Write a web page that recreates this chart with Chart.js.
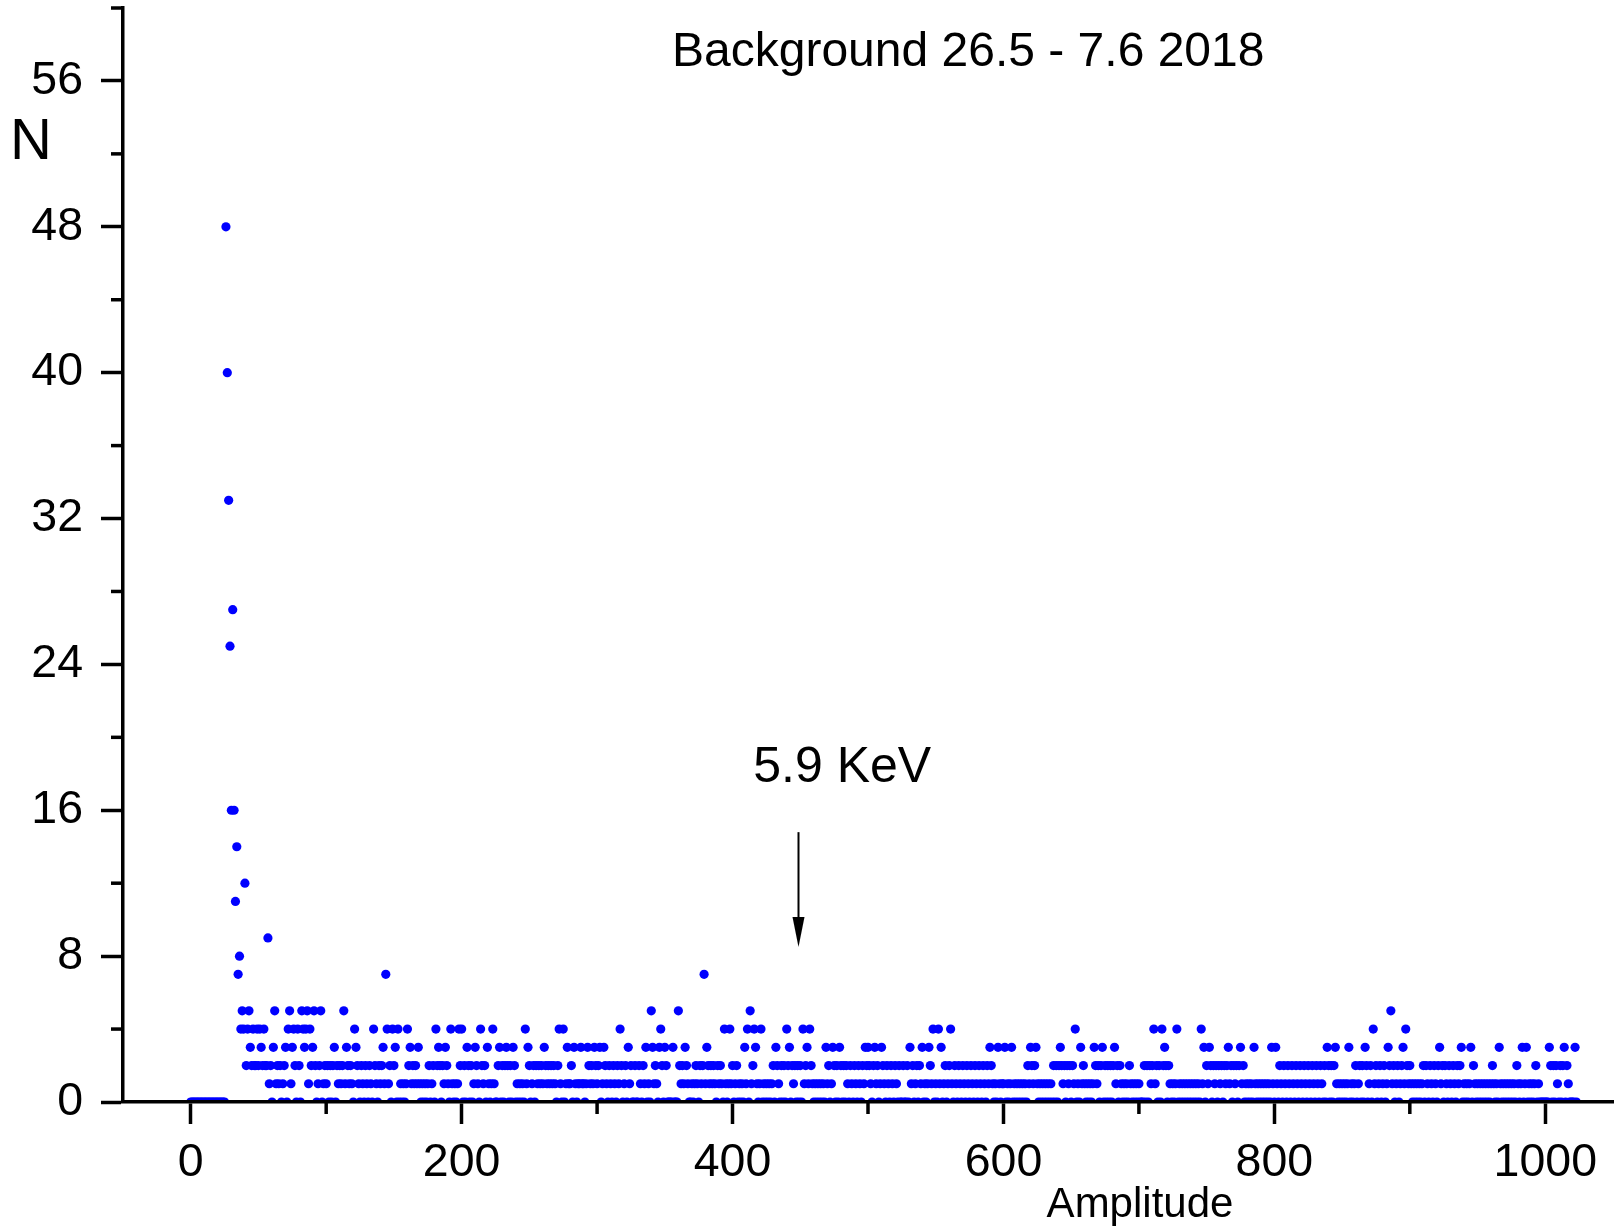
<!DOCTYPE html>
<html>
<head>
<meta charset="utf-8">
<title>Background 26.5 - 7.6 2018</title>
<script src="https://cdn.jsdelivr.net/npm/chart.js@4/dist/chart.umd.min.js"></script>
<style>
  html, body { margin: 0; padding: 0; background: #fff; }
  #wrap { width: 1621px; height: 1232px; position: relative; }
  canvas { display: block; }
</style>
</head>
<body>
<div id="wrap"><canvas id="spectrum" width="1621" height="1232"></canvas></div>
<script>
// Counts per amplitude channel (channel index = amplitude, 0..1023)
const counts = [
  0,0,0,0,0,0,0,0,0,0,
  0,0,0,0,0,0,0,0,0,0,
  0,0,0,0,0,0,48,40,33,25,
  16,27,16,11,14,7,8,4,5,4,
  12,2,4,5,3,2,4,2,2,4,
  2,4,3,2,4,2,2,9,1,2,
  0,3,5,1,2,1,2,0,1,2,
  3,0,4,5,1,3,4,2,0,4,
  2,0,5,4,3,4,5,1,4,2,
  3,5,2,0,1,2,5,0,1,2,
  // 100
  1,2,0,2,0,2,3,0,2,1,
  2,1,2,5,1,3,2,1,2,1,
  0,4,3,2,1,0,2,1,0,2,
  1,0,2,1,0,4,2,1,0,2,
  1,2,3,1,7,4,1,2,0,4,
  2,3,0,4,0,1,0,1,0,1,
  4,2,3,1,2,1,2,1,3,1,
  0,1,0,1,0,1,2,0,1,2,
  0,4,2,3,2,0,2,1,3,2,
  1,0,4,1,0,1,0,1,4,2,
  // 200
  4,0,2,0,3,2,0,2,0,1,
  3,2,1,0,4,2,1,2,0,3,
  1,0,1,4,1,0,0,2,3,0,
  2,0,2,3,2,0,2,0,3,2,
  0,1,0,1,0,1,0,4,1,3,
  2,0,1,2,0,2,1,2,1,2,
  1,3,2,1,2,1,2,1,2,1,
  0,2,4,1,0,4,0,1,3,1,
  1,2,0,3,1,0,1,1,3,1,
  1,0,1,3,2,1,2,1,3,2,
  // 300
  1,2,3,0,1,3,2,1,0,2,
  1,0,2,1,0,2,1,4,2,0,
  1,2,0,3,1,2,0,0,2,0,
  0,2,1,0,2,1,3,0,1,0,
  5,3,1,2,1,0,3,4,2,0,
  3,2,0,0,0,0,3,0,0,0,
  5,2,1,2,1,3,2,1,0,0,
  1,0,1,2,1,0,2,1,2,7,
  1,3,2,1,2,1,2,1,0,2,
  1,2,1,0,4,1,0,1,4,1,
  // 400
  2,0,1,2,0,1,0,1,0,3,
  1,4,0,5,1,2,4,3,1,0,
  1,4,0,1,0,1,0,1,0,1,
  2,0,3,2,1,0,2,0,2,0,
  4,2,3,0,2,1,2,0,2,0,
  2,0,4,1,2,3,1,4,2,1,
  0,1,0,1,0,1,0,1,0,3,
  1,2,0,1,3,2,0,2,0,3,
  2,0,2,0,2,1,0,2,1,0,
  2,1,0,2,1,0,2,1,3,2,
  // 500
  3,2,1,0,2,3,1,2,0,1,
  3,2,1,0,2,1,0,2,1,0,
  2,1,0,2,0,0,2,0,0,2,
  0,3,1,2,0,1,2,0,2,1,
  3,0,1,0,1,3,2,1,4,0,
  1,0,4,1,3,0,1,2,0,1,
  2,4,1,0,2,1,0,2,1,0,
  2,1,0,2,1,0,2,1,0,2,
  1,0,2,1,0,2,1,0,2,1,
  3,2,1,0,1,0,3,1,0,1,
  // 600
  1,3,0,1,0,1,3,0,1,0,
  1,0,1,0,1,0,1,0,2,1,
  3,2,1,2,3,1,0,1,0,1,
  0,1,0,1,0,1,0,2,0,2,
  0,2,3,2,1,2,0,2,1,2,
  0,2,1,4,0,1,0,3,1,2,
  1,0,1,0,1,0,1,3,2,1,
  2,0,2,3,0,2,0,2,0,2,
  0,2,3,1,2,0,2,1,0,1,
  0,1,0,2,1,0,1,0,1,0,
  // 700
  1,0,0,0,2,0,2,0,2,1,
  2,4,1,2,0,2,0,4,2,3,
  2,0,2,1,0,1,0,1,4,0,
  1,0,1,0,1,0,1,0,1,0,
  1,0,1,0,1,0,4,1,3,0,
  2,1,3,2,0,2,1,2,0,2,
  1,2,0,2,1,2,3,1,2,0,
  2,1,2,0,2,3,1,2,0,1,
  0,1,0,1,0,3,1,0,1,0,
  1,0,1,0,1,0,1,0,3,1,
  // 800
  0,3,1,0,2,1,0,2,1,0,
  2,1,0,2,1,0,2,1,0,2,
  1,0,2,1,0,2,1,0,2,1,
  0,2,1,0,2,1,0,2,0,3,
  2,0,2,0,2,3,1,0,1,0,
  1,0,1,0,1,3,0,1,0,1,
  2,0,1,2,0,2,0,3,2,0,
  1,2,0,4,1,2,0,1,2,0,
  1,2,0,1,3,2,5,1,2,0,
  1,2,0,1,2,3,1,4,2,1,
  // 900
  2,1,0,1,0,1,0,1,0,1,
  2,0,2,1,0,2,1,0,2,1,
  0,2,3,1,2,0,2,1,0,2,
  1,0,2,1,0,2,1,2,3,0,
  1,0,1,0,1,3,0,2,1,0,
  1,0,1,0,1,0,1,0,1,0,
  1,2,1,0,1,0,3,1,0,1,
  0,1,0,1,0,1,0,1,0,2,
  1,0,1,3,0,1,3,0,1,0,
  1,0,1,2,0,1,0,0,0,0,
  // 1000
  0,0,0,3,2,0,2,0,2,1,
  0,2,0,2,3,0,2,1,0,0,
  0,0,3,0
];

// Axis ticks
const xMajorTicks = [0, 200, 400, 600, 800, 1000];
const xMinorTicks = [100, 300, 500, 700, 900];
const yMajorTicks = [0, 8, 16, 24, 32, 40, 48, 56];
const yMinorTicks = [4, 12, 20, 28, 36, 44, 52, 60];

// Texts
const titleText = 'Background 26.5 - 7.6 2018';
const markerText = '5.9 KeV';
const markerAmplitude = 448;
const xTitle = 'Amplitude';
const yTitle = 'N';

const FONT = 'Arial, "Liberation Sans", Helvetica, sans-serif';
const INK = '#000000';
const DOT = '#0000ff';
const AXIS_W = 3.5;

const points = counts.map((n, i) => ({ x: i, y: n }));

// Minor ticks, arrow and free text drawn on top of the chart
const overlay = {
  id: 'overlay',
  afterDraw(chart) {
    const { ctx, scales: { x, y } } = chart;
    ctx.save();
    ctx.strokeStyle = INK;
    ctx.fillStyle = INK;
    ctx.lineWidth = AXIS_W;
    ctx.lineCap = 'butt';

    const minorLen = 12;
    xMinorTicks.forEach(v => {
      const px = x.getPixelForValue(v);
      ctx.beginPath();
      ctx.moveTo(px, y.bottom);
      ctx.lineTo(px, y.bottom + minorLen);
      ctx.stroke();
    });
    yMinorTicks.forEach(v => {
      const py = y.getPixelForValue(v);
      ctx.beginPath();
      ctx.moveTo(x.left - minorLen, py);
      ctx.lineTo(x.left, py);
      ctx.stroke();
    });

    // arrow pointing at the 5.9 keV position
    const ax = Math.round(x.getPixelForValue(markerAmplitude)) + 0.5;
    const aTop = y.getPixelForValue(14.8);
    const aTip = y.getPixelForValue(8.5);
    ctx.lineWidth = 2;
    ctx.beginPath();
    ctx.moveTo(ax, aTop);
    ctx.lineTo(ax, aTip - 20);
    ctx.stroke();
    ctx.beginPath();
    ctx.moveTo(ax, aTip);
    ctx.lineTo(ax - 6, aTip - 30);
    ctx.lineTo(ax + 6, aTip - 30);
    ctx.closePath();
    ctx.fill();

    ctx.textAlign = 'center';
    ctx.textBaseline = 'middle';
    ctx.font = '50px ' + FONT;
    ctx.fillText(markerText, x.getPixelForValue(481), y.getPixelForValue(18.3));

    ctx.font = '48px ' + FONT;
    ctx.fillText(titleText, x.getPixelForValue(574), 53);

    ctx.font = '58px ' + FONT;
    ctx.fillText(yTitle, 31, 143);

    ctx.font = '42px ' + FONT;
    ctx.fillText(xTitle, 1140, 1205);
    ctx.restore();
  }
};

new Chart(document.getElementById('spectrum'), {
  type: 'scatter',
  data: {
    datasets: [{
      data: points,
      backgroundColor: DOT,
      borderColor: DOT,
      borderWidth: 0,
      pointRadius: 4.6,
      pointHoverRadius: 4.6
    }]
  },
  options: {
    responsive: false,
    animation: false,
    events: [],
    layout: { padding: { top: 8, right: 8, left: 0, bottom: 0 } },
    plugins: { legend: { display: false }, tooltip: { enabled: false }, title: { display: false } },
    scales: {
      x: {
        type: 'linear',
        min: -50,
        max: 1050,
        afterBuildTicks: s => { s.ticks = xMajorTicks.map(v => ({ value: v })); },
        afterFit: s => { s.height = 130; s.paddingLeft = 0; s.paddingRight = 0; },
        grid: { drawOnChartArea: false, drawTicks: true, tickLength: 22, tickWidth: AXIS_W, tickColor: INK },
        border: { display: true, color: INK, width: AXIS_W, z: 1 },
        ticks: { color: INK, font: { family: FONT, size: 46.5 }, padding: 11, maxRotation: 0, autoSkip: false,
                 callback: v => String(v) }
      },
      y: {
        type: 'linear',
        min: 0,
        max: 60,
        afterBuildTicks: s => { s.ticks = yMajorTicks.map(v => ({ value: v })); },
        afterFit: s => { s.width = 123; s.paddingTop = 0; s.paddingBottom = 0; },
        grid: { drawOnChartArea: false, drawTicks: true, tickLength: 22, tickWidth: AXIS_W, tickColor: INK },
        border: { display: true, color: INK, width: AXIS_W, z: 1 },
        ticks: { color: INK, font: { family: FONT, size: 46.5 }, padding: 18, autoSkip: false,
                 callback: v => String(v) }
      }
    }
  },
  plugins: [overlay]
});
</script>
</body>
</html>
